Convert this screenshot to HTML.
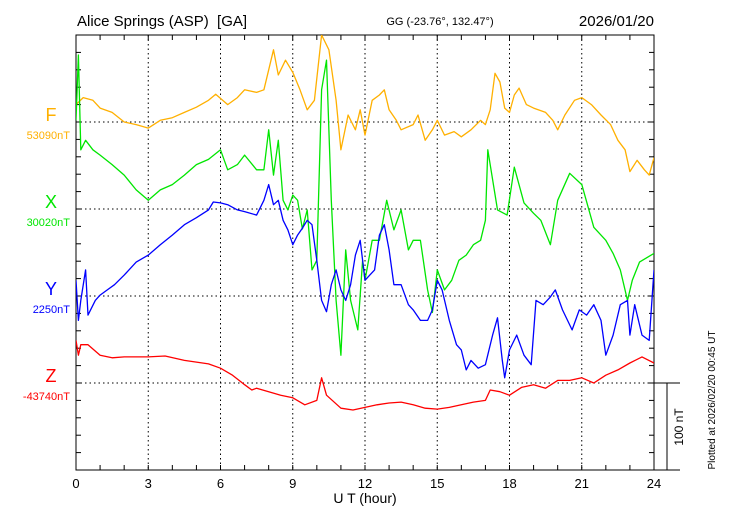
<!DOCTYPE html>
<html><head><meta charset="utf-8"><style>
html,body{margin:0;padding:0;background:#fff;}
svg{display:block;font-family:"Liberation Sans",sans-serif;}
</style></head><body>
<svg id="chart" width="730" height="520" viewBox="0 0 730 520" xmlns="http://www.w3.org/2000/svg">
<defs><clipPath id="clip"><rect x="76" y="35" width="578" height="435"/></clipPath></defs>
<text x="77" y="26" font-size="15">Alice Springs (ASP) &#160;[GA]</text>
<text x="440" y="25" font-size="11" text-anchor="middle">GG (-23.76°, 132.47°)</text>
<text x="654" y="26" font-size="15" text-anchor="end">2026/01/20</text>
<g id="grid"></g>
<g id="axes"></g>
<g id="series" clip-path="url(#clip)"></g>
<g id="labels"></g>
<text x="365" y="503" font-size="14" text-anchor="middle">U T (hour)</text>
<text transform="translate(683,427) rotate(-90)" font-size="12" text-anchor="middle">100 nT</text>
<text transform="translate(715,400) rotate(-90)" font-size="10" text-anchor="middle">Plotted at 2026/02/20 00:45 UT</text>
</svg>
<script>
const fT=[0,0.3,0.7,1,1.5,2,2.5,3,3.5,4,4.5,5,5.5,5.8,6.3,6.7,7,7.5,7.8,8,8.2,8.4,8.7,9,9.3,9.6,9.9,10.2,10.5,10.8,11,11.3,11.6,11.8,12,12.3,12.6,12.8,13,13.3,13.5,14,14.2,14.5,14.8,15,15.3,15.7,16,16.4,16.8,17,17.2,17.4,17.6,17.8,18,18.2,18.4,18.7,19,19.5,19.8,20,20.3,20.7,21,21.4,21.8,22.2,22.5,22.8,23,23.3,23.6,23.8,24];
const fV=[20,28,25,16,11,0,-3,-7,2,5,11,17,25,32,20,28,37,34,37,60,83,54,71,57,37,14,25,100,83,25,-32,8,-9,14,-15,25,31,37,14,2,-9,-3,8,-21,-9,2,-15,-11,-17,-9,2,-3,14,56,46,16,11,31,39,20,16,11,2,-9,8,25,28,20,8,-3,-21,-32,-57,-44,-55,-61,-41];
const xT=[0,0.1,0.2,0.4,0.7,1,1.5,2,2.5,3,3.5,4,4.5,5,5.5,6,6.3,6.7,7,7.5,7.8,8,8.2,8.4,8.6,8.8,9,9.2,9.4,9.6,9.8,10,10.2,10.4,10.6,10.8,11,11.2,11.4,11.7,11.9,12,12.3,12.6,12.9,13.2,13.5,13.8,14,14.3,14.6,14.8,15,15.3,15.6,15.9,16.2,16.5,16.8,17,17.1,17.5,17.9,18.2,18.6,19,19.3,19.7,20,20.5,21,21.5,22,22.3,22.6,22.9,23.1,23.4,23.7,24];
const xV=[102,177,68,79,68,62,51,39,22,10,22,28,39,51,57,68,45,51,62,45,45,91,39,79,10,-1,16,10,-23,-1,-70,-59,137,171,10,-105,-168,-47,-105,-139,-59,-82,-36,-36,10,-24,-1,-47,-36,-36,-93,-119,-70,-93,-82,-59,-53,-41,-36,-13,68,-1,-7,48,7,-5,-13,-41,10,41,28,-21,-36,-51,-70,-105,-82,-61,-56,-51];
const yT=[0,0.1,0.2,0.4,0.5,0.8,1,1.3,1.6,2,2.5,3,3.5,4,4.5,5,5.5,5.7,6,6.3,6.7,7,7.5,7.8,8,8.2,8.4,8.6,8.8,9,9.2,9.4,9.6,9.8,10,10.2,10.4,10.6,10.8,11,11.2,11.4,11.6,11.8,12,12.2,12.4,12.6,12.8,13,13.2,13.5,13.8,14,14.3,14.6,14.8,15,15.2,15.5,15.8,16,16.2,16.4,16.7,17,17.3,17.5,17.7,17.8,18,18.3,18.6,18.9,19.1,19.4,19.7,19.9,20.2,20.6,20.9,21.2,21.5,21.8,22,22.3,22.6,22.9,23,23.2,23.5,23.8,24];
const yV=[18,-28,-5,30,-22,-5,1,7,13,24,39,47,59,70,82,90,99,108,107,105,99,97,93,110,128,105,110,87,76,59,70,78,87,82,41,-5,-18,13,30,7,-5,13,47,64,18,24,30,70,82,53,13,13,-10,-16,-28,-28,-16,18,7,-28,-56,-62,-85,-74,-83,-79,-45,-25,-74,-94,-62,-45,-68,-79,-5,-10,-1,7,-16,-39,-16,-22,-10,-28,-68,-45,-10,-5,-45,-10,-45,-51,30];
const zT=[0,0.1,0.2,0.5,1,1.5,2,3,3.7,4.5,5.5,6,6.5,7,7.3,7.5,8,8.5,9,9.5,10,10.2,10.4,11,11.5,12,12.5,13,13.5,14,14.5,15,15.5,16,16.5,17,17.2,17.6,18,18.5,19,19.5,20,20.5,21,21.5,22,22.5,23,23.5,24];
const zV=[49,32,44,44,32,29,30,30,31,26,22,17,9,-2,-8,-6,-10,-14,-17,-25,-20,6,-14,-29,-31,-28,-25,-23,-22,-25,-29,-30,-28,-25,-22,-20,-8,-10,-14,-5,-2,-6,3,3,6,0,9,15,23,30,23];
const xTicks=[0,3,6,9,12,15,18,21,24];
const compNames=["F","X","Y","Z"];
const compBase=["53090nT","30020nT","2250nT","-43740nT"];

const X0=76,X1=654,Y0=35,Y1=470;
const baseY=[122,209,296,383];
const pxPerNT=0.87;
const xs=h=>X0+(X1-X0)*h/24;
const ys=(v,i)=>baseY[i]-v*pxPerNT;
const NS="http://www.w3.org/2000/svg";
function mk(tag,attrs,parent){const e=document.createElementNS(NS,tag);for(const k in attrs)e.setAttribute(k,attrs[k]);parent.appendChild(e);return e;}
const grid=document.getElementById('grid'),axes=document.getElementById('axes'),ser=document.getElementById('series'),lab=document.getElementById('labels');

xTicks.forEach(t=>{
  if(t>0&&t<24){const l=mk('line',{x1:xs(t),x2:xs(t),y1:Y0,y2:Y1,stroke:'#000','stroke-width':1,'stroke-dasharray':'1.5,3'},grid);
  
  }
  const tx=mk('text',{x:xs(t),y:488,'font-size':13,'text-anchor':'middle'},axes);tx.textContent=t;
  
  
});
baseY.forEach((b,i)=>{
  const l=mk('line',{x1:X0,x2:X1,y1:b,y2:b,stroke:'#000','stroke-width':1,'stroke-dasharray':'1.5,3'},grid);
  
  
});
mk('rect',{x:X0,y:Y0,width:X1-X0,height:Y1-Y0,fill:'none',stroke:'#000','stroke-width':1},axes);
mk('line',{x1:X1,x2:680,y1:383,y2:383,stroke:'#000','stroke-width':1},axes);
mk('line',{x1:X1,x2:680,y1:470,y2:470,stroke:'#000','stroke-width':1},axes);
const sb=mk('line',{x1:667,x2:667,y1:383,y2:470,stroke:'#000','stroke-width':1},axes);


for(let h=0;h<=24;h++){
  mk('line',{x1:xs(h),x2:xs(h),y1:Y1,y2:Y1-5,stroke:'#000'},axes);
  mk('line',{x1:xs(h),x2:xs(h),y1:Y0,y2:Y0+5,stroke:'#000'},axes);
}
for(let k=0;k<=25;k++){const y=Y1-k*17.4;if(y<Y0-1)break;
  mk('line',{x1:X0,x2:X0+5,y1:y,y2:y,stroke:'#000'},axes);
  mk('line',{x1:X1,x2:X1-5,y1:y,y2:y,stroke:'#000'},axes);
}
const cols=['#ffb000','#00e600','#0000ff','#ff0000'];
const data=[[fT,fV],[xT,xV],[yT,yV],[zT,zV]];
const sNames=['f-series','x-series','y-series','z-series'];
data.forEach((d,i)=>{
  const pts=d[0].map((t,j)=>xs(t).toFixed(1)+','+ys(d[1][j],i).toFixed(1)).join(' ');
  const p=mk('polyline',{points:pts,fill:'none',stroke:cols[i],'stroke-width':1.3,'stroke-linejoin':'round'},ser);
  
  
  const a=mk('text',{x:51,y:baseY[i]-1,'font-size':18,'text-anchor':'middle',fill:cols[i]},lab);a.textContent=compNames[i];
  
  
  const b=mk('text',{x:70,y:baseY[i]+17,'font-size':11,'text-anchor':'end',fill:cols[i]},lab);b.textContent=compBase[i];
  
  
});
</script>
</body></html>
